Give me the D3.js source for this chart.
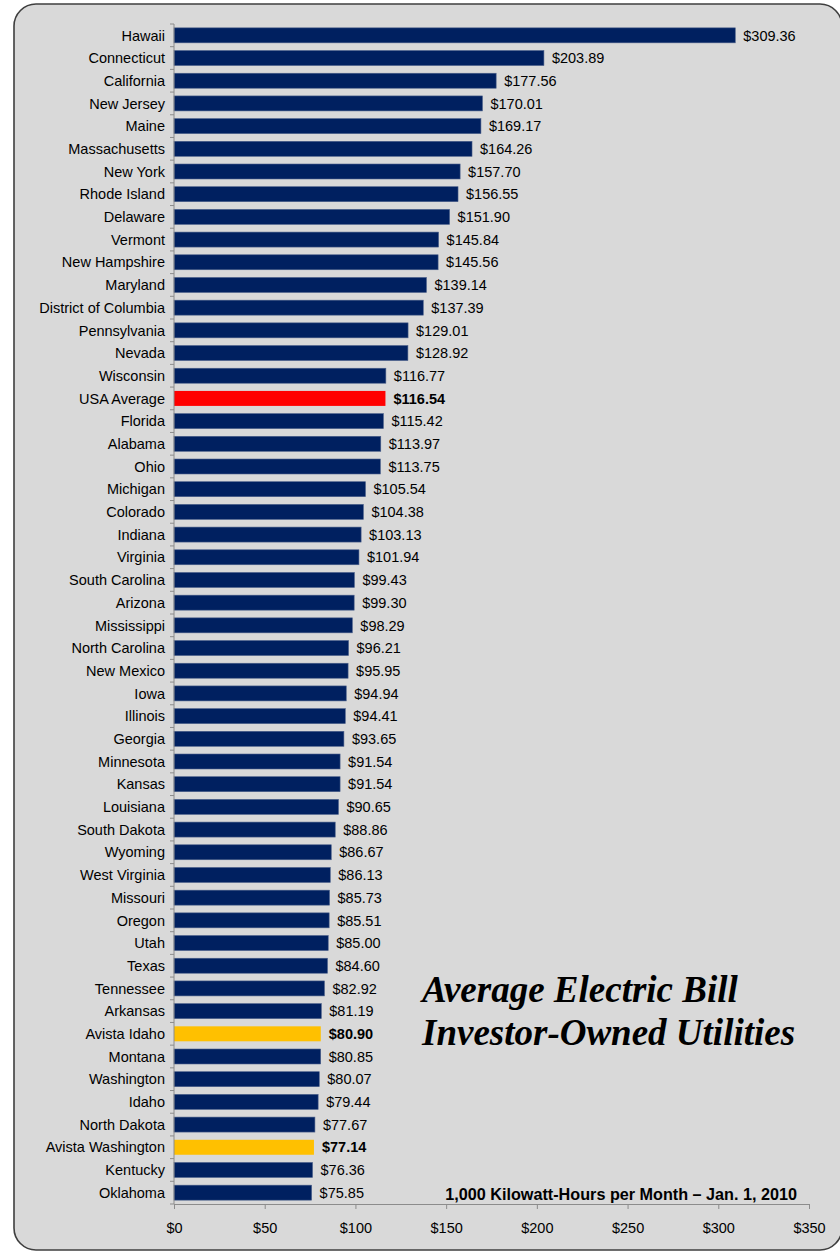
<!DOCTYPE html>
<html>
<head>
<meta charset="utf-8">
<script src="https://cdn.jsdelivr.net/npm/d3@7/dist/d3.min.js"></script>
<style>
  html, body { margin: 0; padding: 0; background: #ffffff; }
  svg { display: block; }
</style>
</head>
<body>
<svg id="chart" width="840" height="1254"></svg>
<script>
// States ordered by average monthly bill, highest first
const states = [
  "Hawaii", "Connecticut", "California", "New Jersey", "Maine", "Massachusetts",
  "New York", "Rhode Island", "Delaware", "Vermont", "New Hampshire", "Maryland",
  "District of Columbia", "Pennsylvania", "Nevada", "Wisconsin", "USA Average",
  "Florida", "Alabama", "Ohio", "Michigan", "Colorado", "Indiana", "Virginia",
  "South Carolina", "Arizona", "Mississippi", "North Carolina", "New Mexico",
  "Iowa", "Illinois", "Georgia", "Minnesota", "Kansas", "Louisiana",
  "South Dakota", "Wyoming", "West Virginia", "Missouri", "Oregon", "Utah",
  "Texas", "Tennessee", "Arkansas", "Avista Idaho", "Montana", "Washington",
  "Idaho", "North Dakota", "Avista Washington", "Kentucky", "Oklahoma"
];
const bills = [
  309.36, 203.89, 177.56, 170.01, 169.17, 164.26,
  157.70, 156.55, 151.90, 145.84, 145.56, 139.14,
  137.39, 129.01, 128.92, 116.77, 116.54,
  115.42, 113.97, 113.75, 105.54, 104.38, 103.13, 101.94,
  99.43, 99.30, 98.29, 96.21, 95.95,
  94.94, 94.41, 93.65, 91.54, 91.54, 90.65,
  88.86, 86.67, 86.13, 85.73, 85.51, 85.00,
  84.60, 82.92, 81.19, 80.90, 80.85, 80.07,
  79.44, 77.67, 77.14, 76.36, 75.85
];
const highlightAverage = ["USA Average"];
const highlightAvista = ["Avista Idaho", "Avista Washington"];
const xTicks = [0, 50, 100, 150, 200, 250, 300, 350];
const titleLines = ["Average Electric Bill", "Investor-Owned Utilities"];
const footnote = "1,000 Kilowatt-Hours per Month \u2013 Jan. 1, 2010";

const data = states.map((s, i) => ({ state: s, bill: bills[i] }));

const svg = d3.select("#chart");
const font = "'Liberation Sans', Arial, sans-serif";
const labelSize = 14.5;

// Panel background with rounded frame
svg.append("rect")
  .attr("x", 14).attr("y", 4)
  .attr("width", 828).attr("height", 1246)
  .attr("rx", 22).attr("ry", 22)
  .attr("fill", "#d9d9d9")
  .attr("stroke", "#3f3f3f")
  .attr("stroke-width", 1.6);

const x = d3.scaleLinear().domain([0, 350]).range([174, 809]);
const y = d3.scaleBand().domain(states).range([24, 1204]).paddingInner(0.34).paddingOuter(0.17);

function barColor(d) {
  if (highlightAverage.includes(d.state)) return "#ff0000";
  if (highlightAvista.includes(d.state)) return "#ffc000";
  return "#002060";
}
function isBold(d) {
  return highlightAverage.includes(d.state) || highlightAvista.includes(d.state);
}

// Bars
svg.append("g").selectAll("rect")
  .data(data)
  .join("rect")
  .attr("x", x(0))
  .attr("y", d => y(d.state))
  .attr("width", d => x(d.bill) - x(0))
  .attr("height", y.bandwidth())
  .attr("fill", barColor)
  .attr("stroke", d => barColor(d) === "#002060" ? "#4a5f8a" : "none")
  .attr("stroke-width", 0.6);

// Value labels
svg.append("g").selectAll("text")
  .data(data)
  .join("text")
  .attr("x", d => x(d.bill) + 8)
  .attr("y", d => y(d.state) + y.bandwidth() / 2)
  .attr("dy", "0.36em")
  .attr("font-family", font)
  .attr("font-size", labelSize)
  .attr("font-weight", d => isBold(d) ? "bold" : "normal")
  .attr("fill", "#000")
  .text(d => "$" + d3.format(".2f")(d.bill));

// Category axis
const yAxis = svg.append("g")
  .attr("transform", `translate(${x(0)},0)`);
yAxis.append("line")
  .attr("x1", 0).attr("x2", 0)
  .attr("y1", y.range()[0]).attr("y2", y.range()[1])
  .attr("stroke", "#8c8c8c").attr("stroke-width", 1);
const boundaries = d3.range(states.length + 1).map(i => y.range()[0] + i * y.step());
yAxis.selectAll("line.tick")
  .data(boundaries)
  .join("line")
  .attr("class", "tick")
  .attr("x1", -4).attr("x2", 0)
  .attr("y1", d => d).attr("y2", d => d)
  .attr("stroke", "#8c8c8c");
yAxis.selectAll("text")
  .data(states)
  .join("text")
  .attr("x", -9)
  .attr("y", d => y(d) + y.bandwidth() / 2)
  .attr("dy", "0.36em")
  .attr("text-anchor", "end")
  .attr("font-family", font)
  .attr("font-size", labelSize)
  .attr("fill", "#000")
  .text(d => d);

// Value axis
const xAxis = svg.append("g")
  .attr("transform", `translate(0,${y.range()[1]})`)
  .call(d3.axisBottom(x).tickValues(xTicks).tickSize(5).tickSizeOuter(0).tickPadding(14)
    .tickFormat(d => "$" + d));
xAxis.select(".domain").attr("stroke", "#8c8c8c");
xAxis.selectAll(".tick line").attr("stroke", "#8c8c8c");
xAxis.selectAll(".tick text")
  .attr("font-family", font)
  .attr("font-size", labelSize)
  .attr("fill", "#000");

// Title
svg.append("g").selectAll("text")
  .data(titleLines)
  .join("text")
  .attr("x", 422)
  .attr("y", (d, i) => 1002 + i * 43)
  .attr("font-family", "'Liberation Serif', 'Times New Roman', serif")
  .attr("font-style", "italic")
  .attr("font-weight", "bold")
  .attr("font-size", 37)
  .attr("fill", "#000")
  .text(d => d);

// Footnote
svg.append("text")
  .attr("x", 797)
  .attr("y", 1200)
  .attr("text-anchor", "end")
  .attr("font-family", font)
  .attr("font-weight", "bold")
  .attr("font-size", 16.2)
  .attr("fill", "#000")
  .text(footnote);
</script>
</body>
</html>
